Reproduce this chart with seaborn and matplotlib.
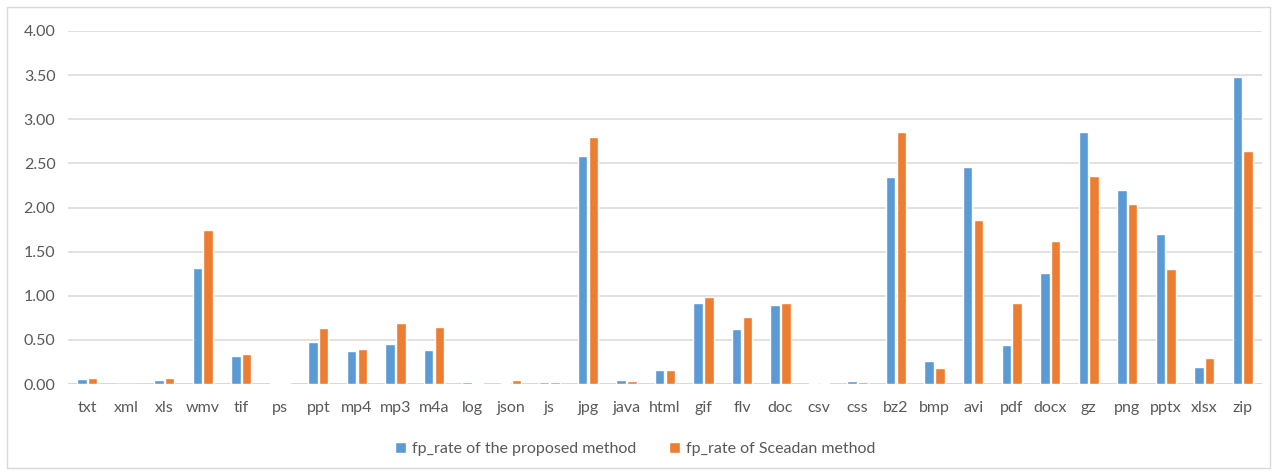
import matplotlib
matplotlib.use("Agg")
import matplotlib.pyplot as plt
from matplotlib.patches import Rectangle
import seaborn as sns
import pandas as pd

file_types = ["txt", "xml", "xls", "wmv", "tif", "ps", "ppt", "mp4", "mp3", "m4a",
              "log", "json", "js", "jpg", "java", "html", "gif", "flv", "doc", "csv",
              "css", "bz2", "bmp", "avi", "pdf", "docx", "gz", "png", "pptx", "xlsx", "zip"]
proposed = [0.06, 0.00, 0.04, 1.31, 0.32, 0.01, 0.48, 0.37, 0.45, 0.39,
            0.02, 0.01, 0.02, 2.58, 0.04, 0.16, 0.92, 0.62, 0.90, 0.01,
            0.03, 2.34, 0.26, 2.46, 0.44, 1.26, 2.86, 2.20, 1.70, 0.19, 3.48]
sceadan = [0.07, 0.00, 0.07, 1.75, 0.34, 0.01, 0.63, 0.40, 0.69, 0.65,
           0.01, 0.04, 0.02, 2.80, 0.03, 0.16, 0.99, 0.76, 0.92, 0.01,
           0.02, 2.86, 0.18, 1.86, 0.92, 1.62, 2.36, 2.04, 1.30, 0.30, 2.64]
series_names = ["fp_rate of the proposed method", "fp_rate of Sceadan method"]
y_ticks = [0.0, 0.5, 1.0, 1.5, 2.0, 2.5, 3.0, 3.5, 4.0]

df = pd.DataFrame({
    "type": file_types * 2,
    "rate": proposed + sceadan,
    "series": [series_names[0]] * len(file_types) + [series_names[1]] * len(file_types),
})

sns.set_theme(style="white")
plt.rcParams["font.family"] = ["Lato", "DejaVu Sans"]
text_color = "#595959"
grid_color = "#D9D9D9"

fig = plt.figure(figsize=(12.78, 4.72), dpi=100)
ax = fig.add_axes([68 / 1278, 1 - 384 / 472, (1262 - 68) / 1278, (384 - 31) / 472])

sns.barplot(data=df, x="type", y="rate", hue="series", order=file_types,
            hue_order=series_names, palette=["#5B9BD5", "#ED7D31"],
            width=0.56, gap=0.12, saturation=1, ax=ax, legend=True)
for bar in ax.patches:
    bar.set_zorder(3)

ax.set_ylim(0, 4)
ax.set_xlim(-0.5, len(file_types) - 0.5)
ax.set_yticks(y_ticks)
ax.set_yticklabels([f"{v:.2f}" for v in y_ticks])
ax.yaxis.grid(True, color=grid_color, linewidth=1.1, zorder=0)
ax.set_axisbelow(True)
for side in ["top", "right", "left", "bottom"]:
    ax.spines[side].set_visible(False)
ax.axhline(0, color=grid_color, linewidth=1.4, zorder=1)
ax.tick_params(axis="both", length=0, labelsize=11.5, colors=text_color)
ax.tick_params(axis="y", pad=9)
ax.tick_params(axis="x", pad=12)
ax.set_xlabel("")
ax.set_ylabel("")

ax.legend(loc="center", bbox_to_anchor=(0.475, -0.185), ncol=2, frameon=False,
          fontsize=11.5, labelcolor=text_color, handlelength=0.7, handleheight=0.7,
          handletextpad=0.4, columnspacing=2.0)

fig.patches.append(Rectangle((7 / 1278, 4 / 472), 1263 / 1278, 461 / 472,
                             transform=fig.transFigure, fill=False,
                             edgecolor=grid_color, linewidth=1.0))

fig.savefig("out.png", dpi=100)
